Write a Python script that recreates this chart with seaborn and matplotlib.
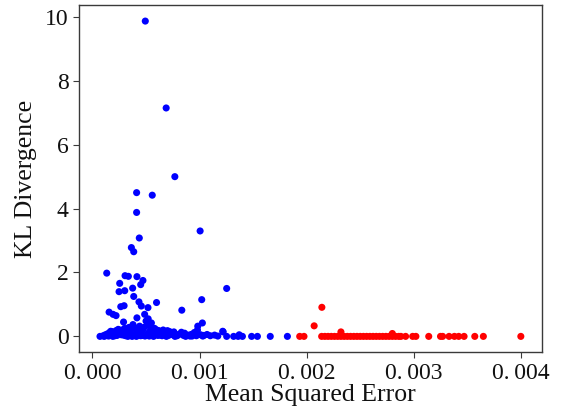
import matplotlib
matplotlib.use("Agg")
import matplotlib.pyplot as plt
import seaborn as sns
import pandas as pd

# ---- data (MSE in units of 1e-3 below, converted when building the table) ----
blue_mse = [
    0.493, 0.688, 0.769, 0.412, 0.558, 0.412, 1.005, 0.437, 0.363, 0.385,
    0.133, 0.304, 0.335, 0.415, 0.471, 0.450, 0.254, 0.375, 0.248, 0.301,
    1.253, 0.385, 1.020, 0.434, 0.598, 0.518, 0.264, 0.295, 0.456, 0.834,
    0.155, 0.192, 0.220, 0.487, 0.415, 1.026, 0.983, 0.378, 0.290, 0.520,
    0.550, 1.220, 0.830, 0.720, 1.216, 1.370,
    # near-zero cluster
    0.07, 0.10, 0.12, 0.14, 0.16, 0.18, 0.20, 0.22, 0.24, 0.26,
    0.28, 0.30, 0.32, 0.34, 0.36, 0.38, 0.40, 0.42, 0.44, 0.46,
    0.48, 0.50, 0.52, 0.54, 0.56, 0.58, 0.60, 0.62, 0.64, 0.66,
    0.68, 0.70, 0.72, 0.74, 0.76, 0.78, 0.80, 0.83, 0.86, 0.89,
    0.92, 0.95, 0.98, 1.01, 1.04, 1.07, 1.10, 1.14, 1.17,
    0.11, 0.15, 0.19, 0.23, 0.27, 0.31, 0.35, 0.39, 0.43, 0.47,
    0.51, 0.55, 0.59, 0.63, 0.67, 0.71, 0.75, 0.79, 0.85, 0.91,
    0.97, 1.03, 0.13, 0.21, 0.29, 0.37, 0.45, 0.53, 0.61, 0.69,
    0.33, 0.41, 0.49, 0.57, 0.65, 0.77, 0.87, 0.93,
    0.17, 0.25, 0.33, 0.41, 0.47, 0.53, 0.59, 0.65,
    1.253, 1.318, 1.36, 1.40, 1.486, 1.54, 1.66, 1.82,
]
blue_kl = [
    9.87, 7.15, 5.00, 4.50, 4.42, 3.88, 3.30, 3.08, 2.78, 2.65,
    1.98, 1.90, 1.88, 1.87, 1.75, 1.62, 1.66, 1.51, 1.40, 1.43,
    1.50, 1.25, 1.15, 1.08, 1.06, 0.90, 0.93, 0.96, 0.95, 0.82,
    0.76, 0.69, 0.65, 0.69, 0.58, 0.42, 0.32, 0.37, 0.45, 0.55,
    0.42, 0.14, 0.13, 0.15, 0.16, 0.05,
    0.00, 0.02, 0.05, 0.08, 0.12, 0.15, 0.10, 0.18, 0.22, 0.14,
    0.20, 0.25, 0.18, 0.28, 0.22, 0.30, 0.26, 0.20, 0.32, 0.24,
    0.28, 0.48, 0.35, 0.30, 0.22, 0.25, 0.20, 0.18, 0.15, 0.20,
    0.12, 0.18, 0.10, 0.08, 0.14, 0.06, 0.05, 0.08, 0.10, 0.04,
    0.06, 0.12, 0.20, 0.05, 0.03, 0.06, 0.02, 0.04, 0.01,
    0.00, 0.01, 0.00, 0.03, 0.05, 0.02, 0.06, 0.04, 0.08, 0.03,
    0.07, 0.05, 0.09, 0.04, 0.06, 0.03, 0.05, 0.02, 0.03, 0.01,
    0.02, 0.01, 0.03, 0.02, 0.04, 0.00, 0.02, 0.01, 0.03, 0.00,
    0.00, 0.00, 0.01, 0.00, 0.02, 0.00, 0.00, 0.01,
    0.16, 0.20, 0.24, 0.18, 0.22, 0.14, 0.12, 0.10,
    0.00, 0.00, 0.00, 0.00, 0.00, 0.00, 0.00, 0.00,
]

red_mse = [
    2.142, 2.070, 2.320, 2.800,
    1.935, 1.975,
    2.14, 2.17, 2.20, 2.23, 2.26, 2.29, 2.32, 2.35, 2.38, 2.41,
    2.44, 2.47, 2.50, 2.53, 2.56, 2.59, 2.62, 2.65, 2.68, 2.71,
    2.74, 2.77, 2.80, 2.83, 2.86, 2.88,
    2.924, 2.99, 3.02, 3.14, 3.25, 3.27, 3.33, 3.38, 3.42, 3.47,
    3.57, 3.65, 4.00,
]
red_kl = [
    0.91, 0.33, 0.14, 0.09,
    0.00, 0.00,
    0.00, 0.00, 0.00, 0.00, 0.00, 0.00, 0.00, 0.00, 0.00, 0.00,
    0.00, 0.00, 0.00, 0.00, 0.00, 0.00, 0.00, 0.00, 0.00, 0.00,
    0.00, 0.00, 0.00, 0.00, 0.00, 0.00,
    0.00, 0.00, 0.00, 0.00, 0.00, 0.00, 0.00, 0.00, 0.00, 0.00,
    0.00, 0.00, 0.00,
]

x_ticks = [0.000, 0.001, 0.002, 0.003, 0.004]
x_tick_labels = ["0.\u2009000", "0.\u2009001", "0.\u2009002", "0.\u2009003", "0.\u2009004"]
y_ticks = [0, 2, 4, 6, 8, 10]

df = pd.DataFrame({
    "mse": [v * 1e-3 for v in blue_mse] + [v * 1e-3 for v in red_mse],
    "kl": blue_kl + red_kl,
    "grp": ["low"] * len(blue_mse) + ["high"] * len(red_mse),
})

sns.set_theme(style="ticks")
plt.rcParams["font.family"] = ["Liberation Serif", "DejaVu Serif"]
plt.rcParams["axes.edgecolor"] = "#3a3a3a"
plt.rcParams["xtick.color"] = "#3a3a3a"
plt.rcParams["ytick.color"] = "#3a3a3a"
plt.rcParams["xtick.labelcolor"] = "#111111"
plt.rcParams["ytick.labelcolor"] = "#111111"

fig = plt.figure(figsize=(5.68, 4.09), dpi=100)
ax = fig.add_axes([0.139, 0.139, 0.815, 0.848])

sns.scatterplot(data=df, x="mse", y="kl", hue="grp",
                palette={"low": "blue", "high": "red"},
                s=26, linewidth=0, legend=False, ax=ax)

ax.set_xticks(x_ticks)
ax.set_xticklabels(x_tick_labels)
ax.set_yticks(y_ticks)
ax.tick_params(labelsize=17, length=4, width=0.8)
ax.set_xlabel("Mean Squared Error", fontsize=18.5, labelpad=0, color="#111111")
ax.set_ylabel("KL Divergence", fontsize=18.5, labelpad=6, color="#111111")
for sp in ax.spines.values():
    sp.set_linewidth(1.0)

fig.savefig("out.png", dpi=100)
